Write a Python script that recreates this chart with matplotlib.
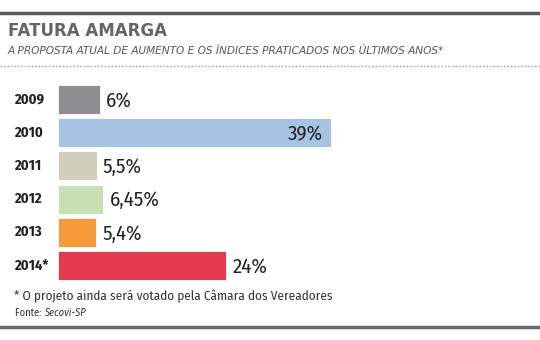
import matplotlib
matplotlib.use('Agg')
import matplotlib.pyplot as plt
from matplotlib.lines import Line2D
import matplotlib.transforms as mtransforms

anos = ['2009', '2010', '2011', '2012', '2013', '2014*']
valores = [6, 39, 5.5, 6.45, 5.4, 24]
rotulos = ['6%', '39%', '5,5%', '6,45%', '5,4%', '24%']
cores = ['#8e8e90', '#a6c4e2', '#d0cfba', '#c9e0b5', '#f59a36', '#e23b4e']

W, H = 540, 340
fig = plt.figure(figsize=(W / 100, H / 100), dpi=100)
cond = ['Fira Sans Condensed', 'DejaVu Sans']
plt.rcParams['font.family'] = ['DejaVu Sans']

def fy(py):
    return 1 - py / H

# linhas de cima e de baixo
fig.add_artist(Line2D([0, 1], [fy(13), fy(13)], color='#5a5a5a', lw=2.5))
fig.add_artist(Line2D([0, 1], [fy(327), fy(327)], color='#6a6a6a', lw=2.5))
fig.add_artist(Line2D([0, 1], [fy(66), fy(66)], color='#9a9a9a', lw=1,
                      linestyle=(0, (1, 1.5))))

fig.text(8 / W, fy(31), 'FATURA AMARGA', fontsize=12, fontweight='bold',
         color='#666666', va='center', ha='left')
fig.text(8 / W, fy(51), 'A PROPOSTA ATUAL DE AUMENTO E OS ÍNDICES PRATICADOS NOS ÚLTIMOS ANOS*',
         fontsize=7.6, style='italic', color='#555555', va='center', ha='left')

# eixo das barras: 7 px por ponto percentual
left_px = 58
top_px, bot_px = 82.9, 282.1
ax = fig.add_axes([left_px / W, 1 - bot_px / H, (W - left_px) / W, (bot_px - top_px) / H])
ax.set_xlim(0, (W - left_px) / 7)
ax.set_ylim(5.5, -0.5)
ax.axis('off')

pos = list(range(len(anos)))
ax.barh(pos, valores, height=0.87, color=cores, edgecolor='white', linewidth=0.6)

trans = mtransforms.blended_transform_factory(fig.transFigure, ax.transData)
for i, (a, v, r) in enumerate(zip(anos, valores, rotulos)):
    ax.text(14 / W, i, a, transform=trans, fontsize=10.5, fontweight='bold',
            color='#222222', va='center', ha='left', family=cond)
    if v > 30:
        ax.text(v - 1.1, i + 0.05, r, fontsize=15, color='#222222', va='center',
                ha='right', family=cond)
    else:
        ax.text(v + 0.9, i + 0.05, r, fontsize=15, color='#222222', va='center',
                ha='left', family=cond)

fig.text(14 / W, fy(296), '* O projeto ainda será votado pela Câmara dos Vereadores',
         fontsize=9.5, color='#333333', va='center', ha='left', family=cond)
t1 = fig.text(15 / W, fy(313), 'Fonte: ', fontsize=7.5, color='#333333', va='center',
              ha='left', family=cond)
fig.canvas.draw()
bb = t1.get_window_extent()
fig.text(bb.x1 / W, fy(313), 'Secovi-SP', fontsize=7.5, style='italic', color='#333333',
         va='center', ha='left', family=cond)

fig.savefig('out.png', dpi=100)
